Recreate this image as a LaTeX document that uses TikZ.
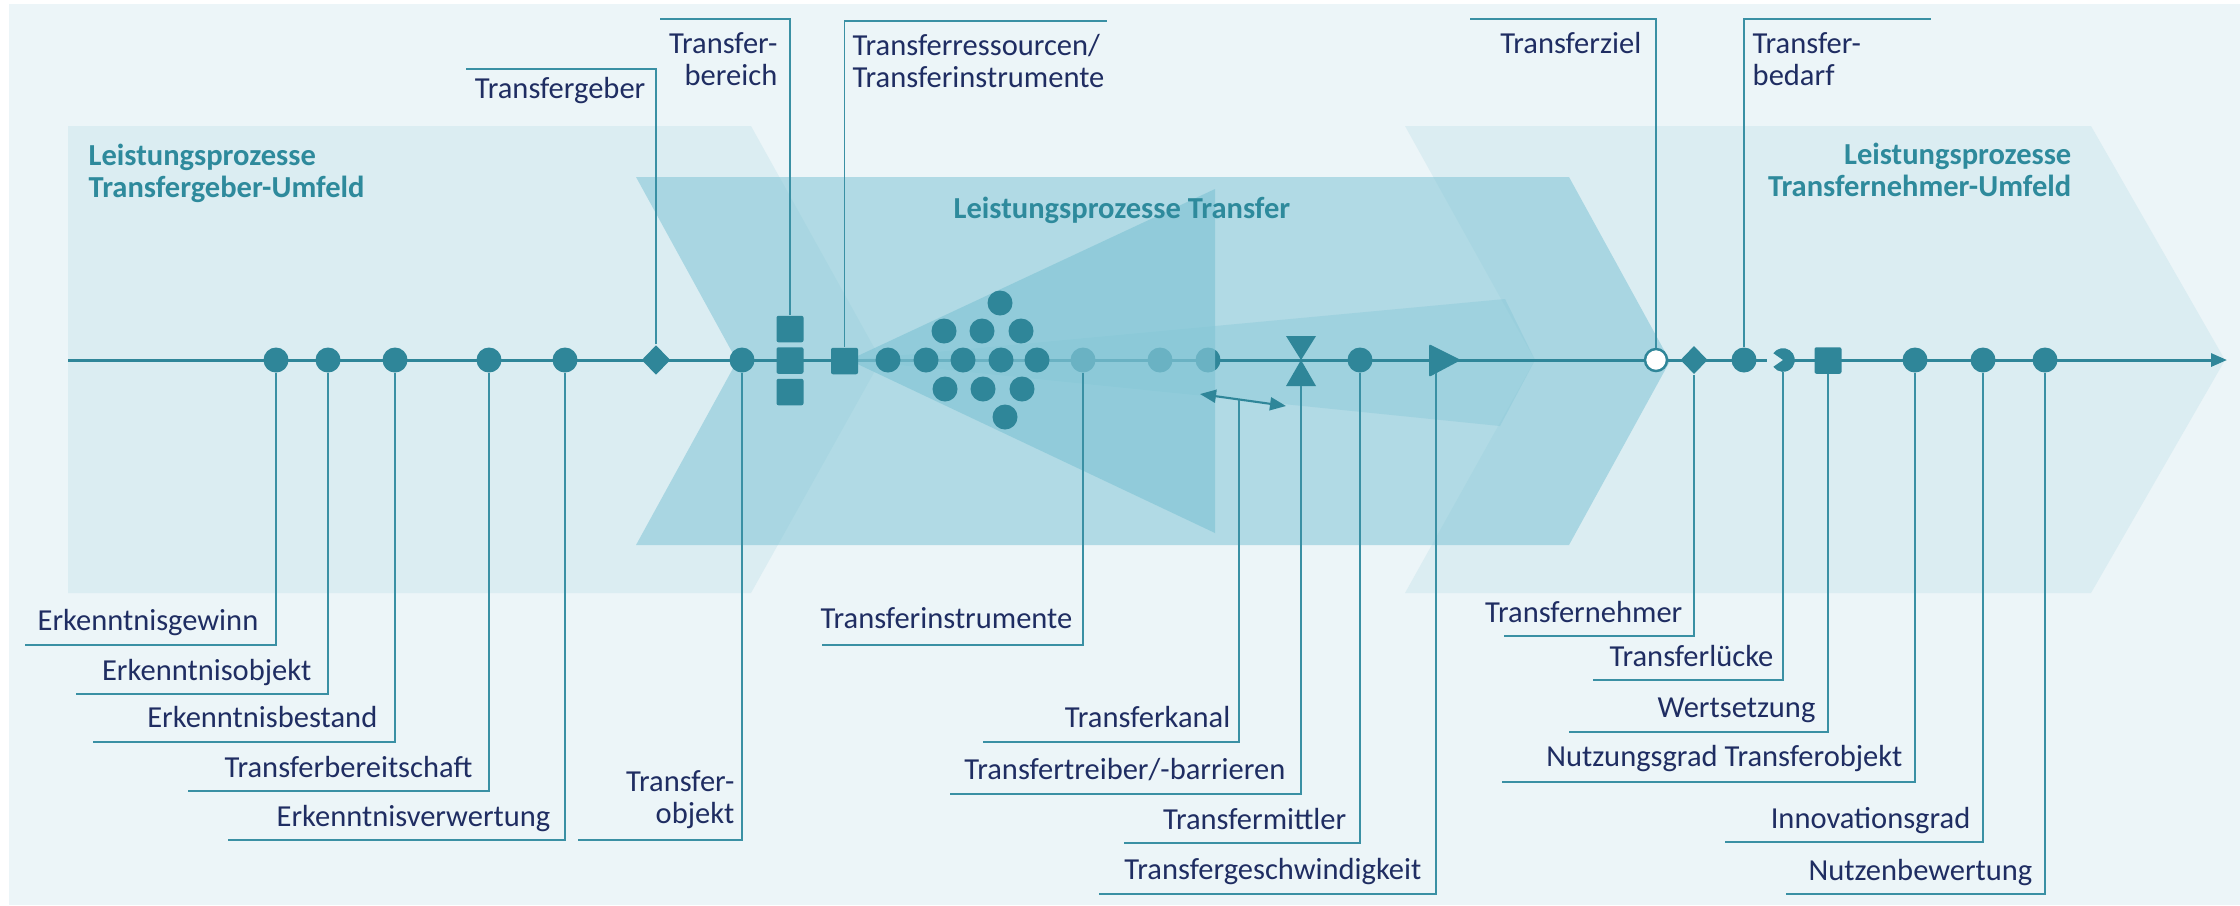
\documentclass[tikz,border=0pt]{standalone}
\usepackage{fontspec}
\setmainfont{Carlito}
\usetikzlibrary{shapes.geometric,arrows.meta}
\definecolor{bgc}{HTML}{ECF5F8}
\definecolor{lightc}{HTML}{DBEDF2}
\definecolor{midc}{HTML}{7FC4D5}
\definecolor{tric}{HTML}{84C6D6}
\definecolor{axc}{HTML}{2F8699}
\definecolor{leadc}{HTML}{3A90A4}
\definecolor{txtc}{HTML}{1F2D62}
\definecolor{titc}{HTML}{2E8A9C}
\begin{document}
\begin{tikzpicture}[x=0.01cm,y=-0.01cm,
  font=\fontsize{8.68pt}{9.1pt}\selectfont,
  >={Triangle[length=0.16cm,width=0.13cm]},
  dot/.style={circle,fill=axc,inner sep=0,minimum size=0.25cm},
  sq/.style={rectangle,fill=axc,inner sep=0,minimum width=0.27cm,minimum height=0.265cm,rounded corners=0.02cm},
  dia/.style={diamond,fill=axc,inner sep=0,minimum width=0.29cm,minimum height=0.30cm},
  leader/.style={draw=leadc,line width=0.5pt},
  lbl/.style={text=txtc,inner sep=0},
  ttl/.style={text=titc,inner sep=0,font=\fontsize{8.68pt}{9.1pt}\selectfont\bfseries}]
\useasboundingbox (0,0) rectangle (2240,905);
\fill[white] (0,0) rectangle (2240,905);
\fill[bgc] (9,4) rectangle (2240,905);
% process arrows
\fill[lightc] (68,126) -- (751,126) -- (881,360) -- (751,593) -- (68,593) -- cycle;
\fill[lightc] (1405,126) -- (2091,126) -- (2225,360) -- (2091,593) -- (1405,593) -- (1535,360) -- cycle;
\fill[midc,fill opacity=0.54] (636,177) -- (1569,177) -- (1670,361) -- (1569,545) -- (636,545) -- (737,361) -- cycle;
\fill[tric,fill opacity=0.4] (850,360) -- (1505,299) -- (1535,360) -- (1500,426) -- cycle;
% axis
\coordinate (axs) at (68,360);
\coordinate (axe) at (2227,360);
\draw[axc,line width=0.85pt,->] (axs) -- (axe);
% faded instruments
\node[dot] (ti) at (1083,360) {};
\node[dot] (lc2) at (1160,360) {};
\node[dot] (lc3) at (1208,360) {};
\fill[tric,fill opacity=0.7] (849,360) -- (1215,189) -- (1215,533) -- cycle;
% cluster
\foreach \x/\y [count=\i] in {888/360,926/360,963/360,1001/360,1037/360,944/331,982/331,1021/331,1000/303,945/389,983/389,1022/389,1005/417}
  \node[dot] (cl\i) at (\x,\y) {};
% markers
\node[dot] (eg) at (276,360) {};
\node[dot] (eo) at (328,360) {};
\node[dot] (eb) at (395,360) {};
\node[dot] (tb) at (489,360) {};
\node[dot] (ev) at (565,360) {};
\node[dia] (tg) at (656,360) {};
\node[dot] (to) at (742,360) {};
\node[sq] (tbe1) at (790,329) {};
\node[sq] (tbe2) at (790,360.5) {};
\node[sq] (tbe3) at (790,392) {};
\node[sq] (tr) at (844.5,361) {};
\fill[axc] (1286,336) -- (1316,336) -- (1301,360) -- cycle;
\fill[axc] (1301,360) -- (1316,386) -- (1286,386) -- cycle;
\coordinate (bt) at (1301,386);
\node[dot] (tm) at (1360,360) {};
\fill[axc,rounded corners=0.02cm] (1429,344) -- (1461,360) -- (1429,377) -- cycle;
\coordinate (tgs) at (1436,373);
\node[circle,fill=white,draw=axc,line width=0.7pt,minimum size=0.22cm,inner sep=0] (tz) at (1656,360) {};
\node[dia,minimum width=0.275cm,minimum height=0.285cm] (tn) at (1694,360) {};
\node[dot] (tbd) at (1744,360) {};
\fill[lightc] (1767,356.5) rectangle (1784,363.5);
\coordinate (tl) at (1783,360);
\fill[axc] (tl) -- ++(145:0.118cm) arc[start angle=145,end angle=-145,radius=0.118cm] -- cycle;
\coordinate (tlb) at (1783,372);
\node[sq] (ws) at (1828,360.5) {};
\node[dot] (ng) at (1915,360) {};
\node[dot] (ig) at (1983,360) {};
\node[dot] (nb) at (2045,360) {};
% double arrow (Transferkanal)
\coordinate (da1) at (1200,394);
\coordinate (da2) at (1286,406);
\draw[axc,line width=0.6pt,<->] (da1) -- (da2);
\coordinate (da) at (1239,400);
% leader end points
\coordinate (e-eg) at (25,645);
\coordinate (e-eo) at (76,694);
\coordinate (e-eb) at (93,742);
\coordinate (e-tb) at (188,791);
\coordinate (e-ev) at (228,840);
\coordinate (e-to) at (578,840);
\coordinate (e-ti) at (822,645);
\coordinate (e-tk) at (983,742);
\coordinate (e-bt) at (950,794);
\coordinate (e-tm) at (1124,843);
\coordinate (e-tgs) at (1099,894);
\coordinate (e-tn) at (1504,636);
\coordinate (e-tl) at (1593,680);
\coordinate (e-ws) at (1569,732);
\coordinate (e-ng) at (1502,782);
\coordinate (e-ig) at (1725,842);
\coordinate (e-nb) at (1786,894);
\coordinate (e-tg) at (466,69);
\coordinate (e-tbe) at (660,19);
\coordinate (e-tr) at (1107,21);
\coordinate (e-tz) at (1470,19);
\coordinate (e-tbd) at (1931,19);
% leaders
\draw[leader] (eg.south) |- (e-eg);
\draw[leader] (eo.south) |- (e-eo);
\draw[leader] (eb.south) |- (e-eb);
\draw[leader] (tb.south) |- (e-tb);
\draw[leader] (ev.south) |- (e-ev);
\draw[leader] (to.south) |- (e-to);
\draw[leader] (ti.south) |- (e-ti);
\draw[leader] (da) |- (e-tk);
\draw[leader] (bt) |- (e-bt);
\draw[leader] (tm.south) |- (e-tm);
\draw[leader] (tgs) |- (e-tgs);
\draw[leader] (tn.south) |- (e-tn);
\draw[leader] (tlb) |- (e-tl);
\draw[leader] (ws.south) |- (e-ws);
\draw[leader] (ng.south) |- (e-ng);
\draw[leader] (ig.south) |- (e-ig);
\draw[leader] (nb.south) |- (e-nb);
\draw[leader] (tg.north) |- (e-tg);
\draw[leader] (tbe1.north) |- (e-tbe);
\draw[leader] (tr.north) |- (e-tr);
\draw[leader] (tz.north) |- (e-tz);
\draw[leader] (tbd.north) |- (e-tbd);
% labels
\node[lbl,anchor=base east] (l-eg) at (259,630) {Erkenntnisgewinn};
\node[lbl,anchor=base east] (l-eo) at (312,680) {Erkenntnisobjekt};
\node[lbl,anchor=base east] (l-eb) at (378,727) {Erkenntnisbestand};
\node[lbl,anchor=base east] (l-tb) at (473,777) {Transferbereitschaft};
\node[lbl,anchor=base east] (l-ev) at (551,826) {Erkenntnisverwertung};
\node[lbl,anchor=base east] (l-to) at (735,823) {\begin{tabular}[b]{@{}r@{}}Transfer-\\objekt\end{tabular}};
\node[lbl,anchor=base east] (l-ti) at (1073,628) {Transferinstrumente};
\node[lbl,anchor=base east] (l-tk) at (1231,727) {Transferkanal};
\node[lbl,anchor=base east] (l-bt) at (1286,779) {Transfertreiber/-barrieren};
\node[lbl,anchor=base east] (l-tm) at (1347,829) {Transfermittler};
\node[lbl,anchor=base east] (l-tgs) at (1422,879) {Transfergeschwindigkeit};
\node[lbl,anchor=base east] (l-tn) at (1683,622) {Transfernehmer};
\node[lbl,anchor=base east] (l-tl) at (1774,666) {Transferlücke};
\node[lbl,anchor=base east] (l-ws) at (1816,717) {Wertsetzung};
\node[lbl,anchor=base east] (l-ng) at (1903,766) {Nutzungsgrad Transferobjekt};
\node[lbl,anchor=base east] (l-ig) at (1971,828) {Innovationsgrad};
\node[lbl,anchor=base east] (l-nb) at (2033,880) {Nutzenbewertung};
\node[lbl,anchor=base east] (l-tg) at (646,98) {Transfergeber};
\node[lbl,anchor=base east] (l-tbe) at (778,53) {\begin{tabular}[t]{@{}r@{}}Transfer-\\bereich\end{tabular}};
\node[lbl,anchor=base west] (l-tr) at (852,55) {\begin{tabular}[t]{@{}l@{}}Transferressourcen/\\Transferinstrumente\end{tabular}};
\node[lbl,anchor=base east] (l-tz) at (1642,53) {Transferziel};
\node[lbl,anchor=base west] (l-tbd) at (1752,53) {\begin{tabular}[t]{@{}l@{}}Transfer-\\bedarf\end{tabular}};
% titles
\node[ttl,anchor=base west] (t-geber) at (88,165) {\begin{tabular}[t]{@{}l@{}}Leistungsprozesse\\Transfergeber-Umfeld\end{tabular}};
\node[ttl,anchor=base west] (t-transfer) at (953,218) {Leistungsprozesse Transfer};
\node[ttl,anchor=base east] (t-nehmer) at (2072,164) {\begin{tabular}[t]{@{}r@{}}Leistungsprozesse\\Transfernehmer-Umfeld\end{tabular}};
\end{tikzpicture}
\end{document}
